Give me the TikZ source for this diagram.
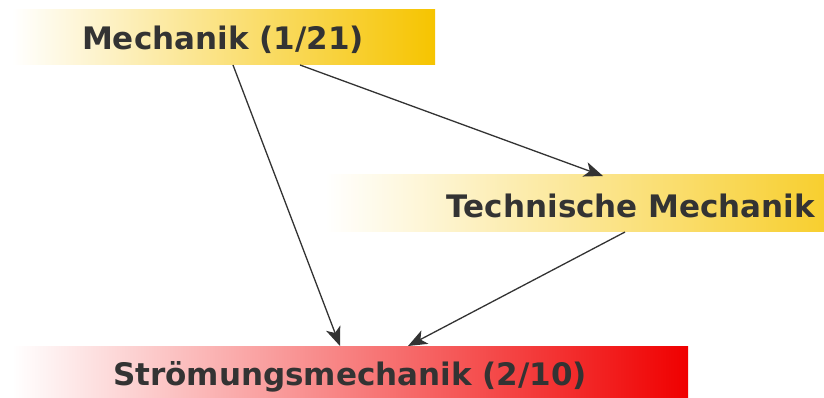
\documentclass[tikz,border=0pt]{standalone}
\usepackage{fontspec}
\setmainfont{DejaVu Sans}
\usetikzlibrary{arrows.meta,calc}
\definecolor{gold}{RGB}{246,196,0}
\definecolor{redc}{RGB}{240,0,0}
\definecolor{txt}{RGB}{51,51,51}
\begin{document}
\begin{tikzpicture}[x=1pt,y=-1pt,
  box/.style={inner sep=0pt, text=txt, font=\fontsize{31}{34}\selectfont\bfseries},
  conn/.style={draw=txt, line width=1.3pt, -{Stealth[length=19pt,width=15pt,inset=5pt]}}]
\useasboundingbox (0,0) rectangle (824,398);
\fill[white] (0,0) rectangle (824,398);
\begin{scope}
\clip (0,0) rectangle (824,398);
\shade[left color=white, right color=gold] (12,10) rectangle (435,65);
\shade[left color=white, right color=gold] (325,175) rectangle (937,231);
\shade[left color=white, middle color=red!50!white, right color=redc] (12,346) rectangle (688,402);
\node[box, anchor=center] (mech) at (223,40) {Mechanik (1/21)};
\node[box, anchor=center] (tech) at (631,206) {Technische Mechanik};
\node[box, anchor=center] (strom) at (350,377) {Strömungsmechanik (2/10)};
\end{scope}
\coordinate (mechsw) at (12,65);
\coordinate (techsw) at (325,175);
\coordinate (techsb) at (325,232);
\coordinate (stromnw) at (12,346);
\draw[conn] ($(mechsw)+(221,0)$) -- ($(stromnw)+(328,0)$);
\draw[conn] ($(mechsw)+(288,0)$) -- ($(techsw)+(278,1)$);
\draw[conn] ($(techsb)+(300,0)$) -- ($(stromnw)+(396,0)$);
\end{tikzpicture}
\end{document}
